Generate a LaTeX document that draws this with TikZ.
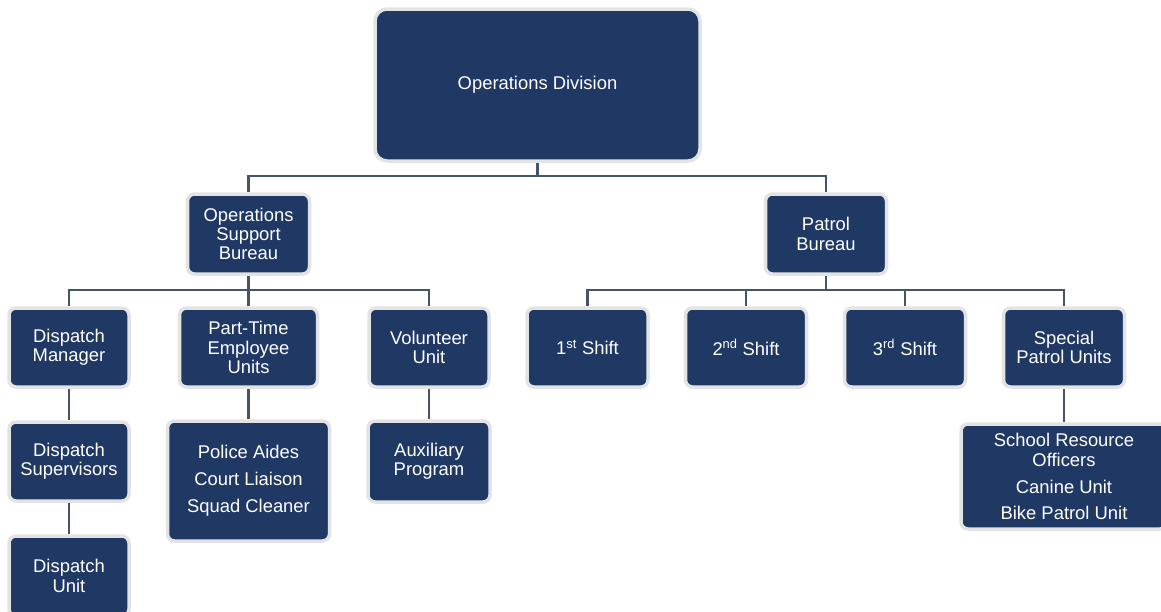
\documentclass[tikz,border=0pt]{standalone}
\usepackage{fontspec}
\setmainfont{Liberation Sans}
\definecolor{navy}{HTML}{203864}
\definecolor{rim}{HTML}{E3E3E3}
\definecolor{wirec}{HTML}{44546A}
\begin{document}
\begin{tikzpicture}[x=1pt,y=-1pt,
  orgbox/.style={draw=rim, line width=3.5pt, fill=navy, rounded corners=7pt,
    text=white, align=center, inner sep=0pt,
    font=\fontsize{18.4}{19.2}\selectfont},
  wire/.style={draw=wirec, line width=2.3pt}]
\useasboundingbox (0,0) rectangle (1161,611);

% nodes
\node[orgbox, rounded corners=12pt, minimum width=325pt, minimum height=152pt] (od) at (537.5,85) {Operations Division};
\node[orgbox, minimum width=122pt, minimum height=80pt] (osb) at (248.5,234) {Operations\\Support\\Bureau};
\node[orgbox, minimum width=121pt, minimum height=80pt] (pb) at (826,234) {Patrol\\Bureau};

\node[orgbox, minimum width=120pt, minimum height=79pt] (dm) at (69,347.5) {Dispatch\\Manager};
\node[orgbox, minimum width=138pt, minimum height=79pt] (pt) at (248.5,347.5) {Part-Time\\Employee\\Units};
\node[orgbox, minimum width=120pt, minimum height=79pt] (vu) at (429,347.5) {Volunteer\\Unit};

\node[orgbox, minimum width=121pt, minimum height=79pt] (s1) at (587.5,347.5) {1\textsuperscript{st} Shift};
\node[orgbox, minimum width=121pt, minimum height=79pt] (s2) at (746,347.5) {2\textsuperscript{nd} Shift};
\node[orgbox, minimum width=121pt, minimum height=79pt] (s3) at (905,347.5) {3\textsuperscript{rd} Shift};
\node[orgbox, minimum width=121pt, minimum height=79pt] (sp) at (1064,347.5) {Special\\Patrol Units};

\node[orgbox, minimum width=120pt, minimum height=79pt] (ds) at (69,461.5) {Dispatch\\Supervisors};
\node[orgbox, minimum width=162pt, minimum height=120pt] (pa) at (248.5,481) {Police Aides\\[7.8pt]Court Liaison\\[7.8pt]Squad Cleaner};
\node[orgbox, minimum width=122pt, minimum height=81pt] (ap) at (429,461.5) {Auxiliary\\Program};
\node[orgbox, minimum width=206pt, minimum height=105pt] (sr) at (1064,476.5) {School Resource\\Officers\\[7.8pt]Canine Unit\\[7pt]Bike Patrol Unit};

\node[orgbox, minimum width=120pt, minimum height=80pt] (du) at (69,576) {Dispatch\\Unit};

% connectors
\coordinate (j1) at (537.5,176);
\draw[wire] (od.south) -- (j1);
\draw[wire] (osb.north) |- (j1) -| (pb.north);

\coordinate (j2) at (248.5,290);
\draw[wire] (osb.south) -- (j2);
\draw[wire] (dm.north) |- (j2) -| (vu.north);
\draw[wire] (pt.north) -- (j2);

\coordinate (j3) at (826,290);
\draw[wire] (pb.south) -- (j3);
\draw[wire] (s1.north) |- (j3) -| (sp.north);
\draw[wire] (s2.north) -- (s2.north |- j3);
\draw[wire] (s3.north) -- (s3.north |- j3);

\draw[wire] (dm.south) -- (ds.north);
\draw[wire] (ds.south) -- (du.north);
\draw[wire] (pt.south) -- (pa.north);
\draw[wire] (vu.south) -- (ap.north);
\draw[wire] (sp.south) -- (sr.north);
\end{tikzpicture}
\end{document}
